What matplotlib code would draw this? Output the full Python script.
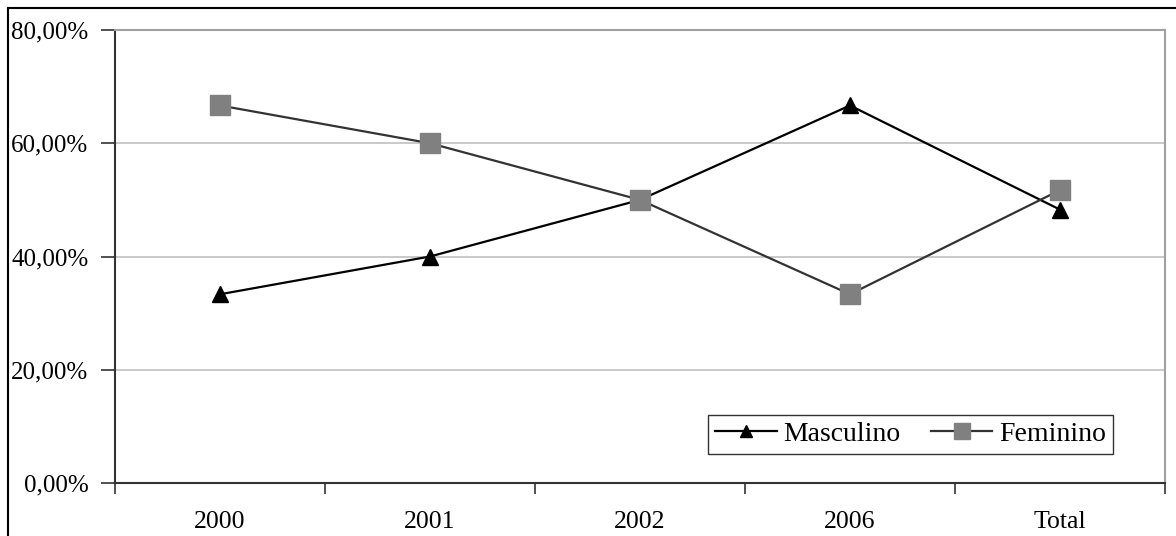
import matplotlib
matplotlib.use("Agg")
import matplotlib.pyplot as plt
from matplotlib.lines import Line2D

categories = ["2000", "2001", "2002", "2006", "Total"]
masculino = [33.33, 40.0, 50.0, 66.67, 48.28]
feminino = [66.67, 60.0, 50.0, 33.33, 51.72]
yticks = [0, 20, 40, 60, 80]
ytick_labels = ["0,00%", "20,00%", "40,00%", "60,00%", "80,00%"]

plt.rcParams['font.family'] = ['Liberation Serif', 'DejaVu Serif']

fig = plt.figure(figsize=(11.76, 5.36), dpi=100)
ax = fig.add_axes([115/1176, 1-483/536, 1050/1176, 453/536])

x = list(range(len(categories)))
ax.plot(x, masculino, color='black', lw=1.6, marker='^', markersize=12,
        markerfacecolor='black', markeredgecolor='black', label='Masculino', zorder=3)
ax.plot(x, feminino, color='#333333', lw=1.6, marker='s', markersize=14,
        markerfacecolor='#808080', markeredgecolor='#808080', label='Feminino', zorder=3)

ax.set_xlim(-0.5, len(categories) - 0.5)
ax.set_ylim(0, 80)
ax.set_yticks(yticks)
ax.set_yticklabels(ytick_labels)
ax.set_xticks(x)
ax.set_xticklabels(categories)
ax.set_xticks([i - 0.5 for i in range(len(categories) + 1)], minor=True)

ax.tick_params(axis='y', which='major', length=10, width=1.2, color='#333333',
               labelsize=18, pad=9)
ax.tick_params(axis='x', which='major', length=0, labelsize=18.5, pad=20)
ax.tick_params(axis='x', which='minor', length=8, width=1.2, color='#333333')

ax.grid(axis='y', color='#c0c0c0', lw=1.2)
ax.set_axisbelow(True)
for s in ['left', 'bottom']:
    ax.spines[s].set_color('#333333')
    ax.spines[s].set_linewidth(1.5)
for s in ['top', 'right']:
    ax.spines[s].set_color('#a0a0a0')
    ax.spines[s].set_linewidth(1.5)

h1 = Line2D([], [], color='black', lw=1.6, marker='^', markersize=9,
            markerfacecolor='black', markeredgecolor='black')
h2 = Line2D([], [], color='#333333', lw=1.6, marker='s', markersize=11,
            markerfacecolor='#808080', markeredgecolor='#808080')
leg = ax.legend([h1, h2], ['Masculino', 'Feminino'],
                loc='lower right', bbox_to_anchor=(1113/1176, 1-454/536),
                bbox_transform=fig.transFigure, ncol=2, frameon=True,
                fancybox=False, edgecolor='black', fontsize=20,
                handlelength=2.2, handletextpad=0.25, columnspacing=1.1,
                borderpad=0.25, borderaxespad=0)
leg.get_frame().set_linewidth(1.0)

# figure border (left and top visible)
fig.add_artist(Line2D([8/1176, 8/1176], [0, 1-8/536], transform=fig.transFigure,
                      color='black', lw=1.5))
fig.add_artist(Line2D([8/1176, 1], [1-8/536, 1-8/536], transform=fig.transFigure,
                      color='black', lw=1.5))

fig.savefig("out.png", dpi=100)
